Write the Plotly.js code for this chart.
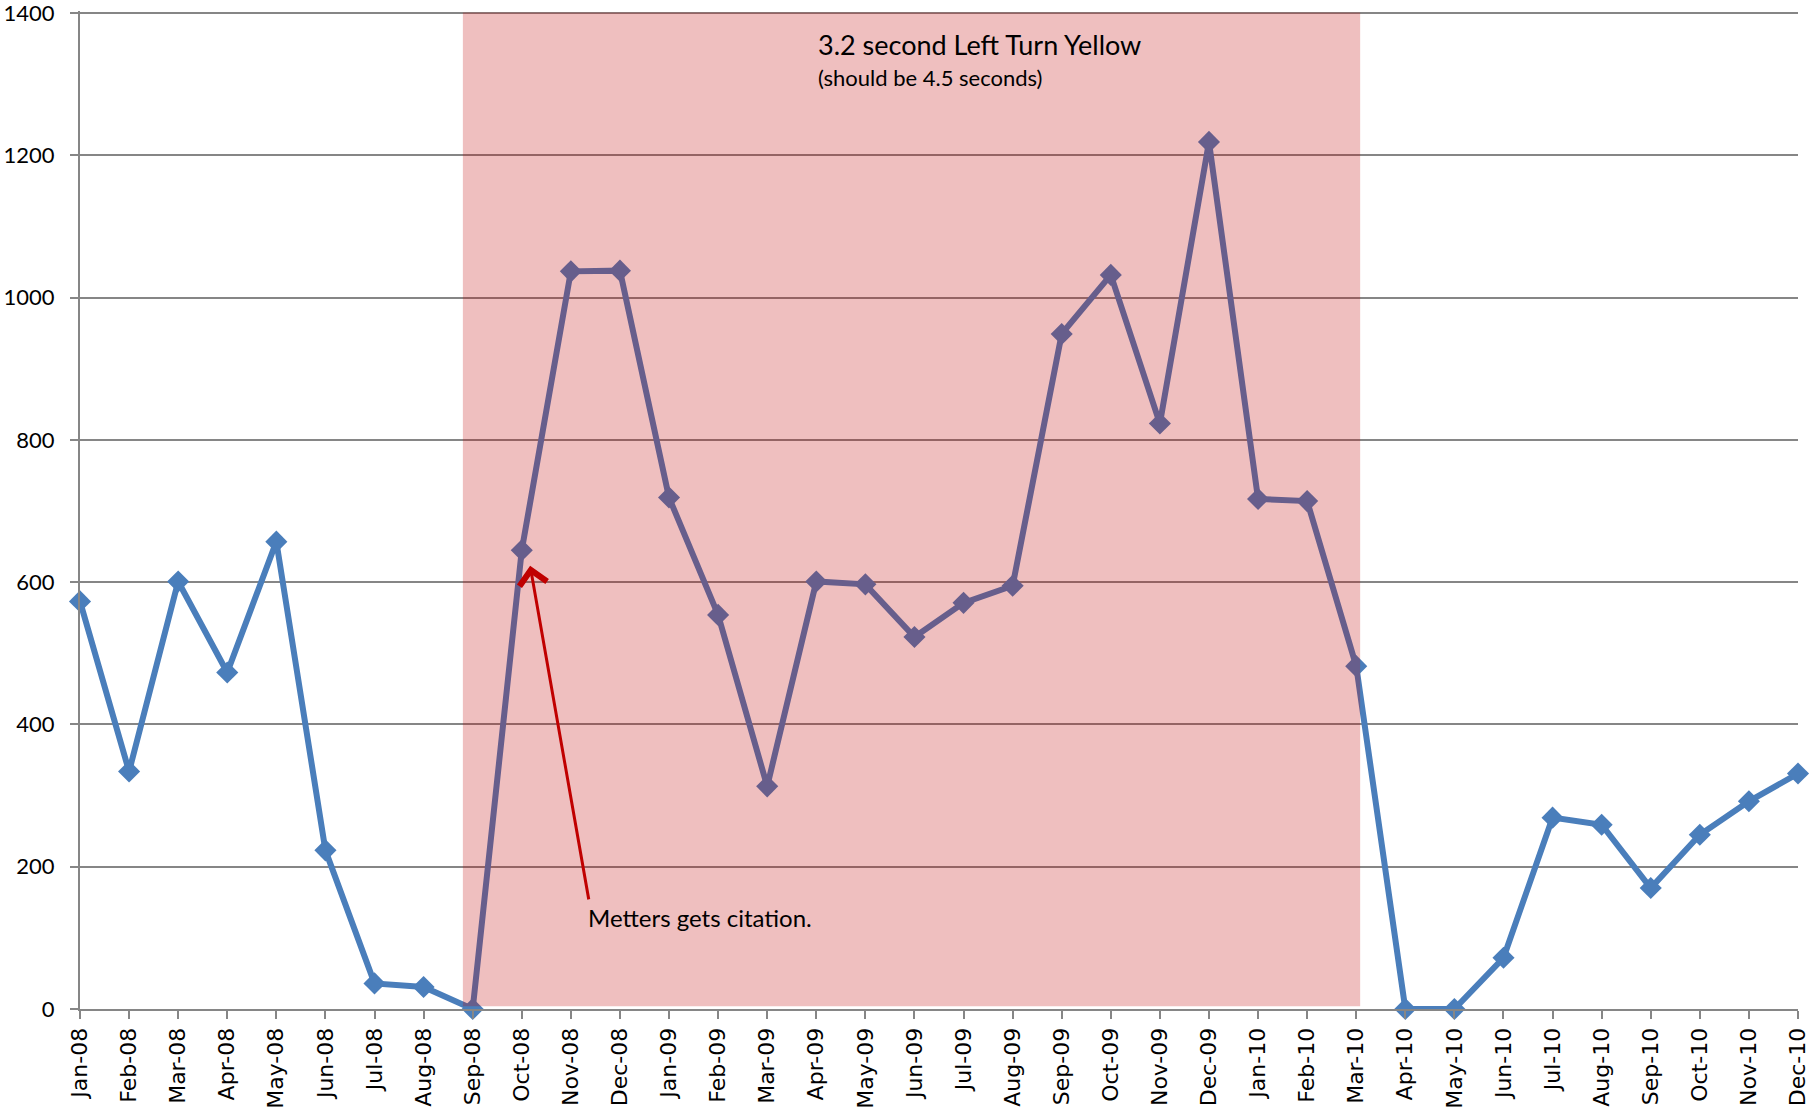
<!DOCTYPE html>
<html>
<head>
<meta charset="utf-8">
<script src="https://cdn.plot.ly/plotly-3.0.1.min.js"></script>
<style>
  html, body { margin: 0; padding: 0; background: #ffffff; }
  #chart { width: 1818px; height: 1110px; }
</style>
</head>
<body>
<div id="chart"></div>
<script>
const months = [
  "Jan-08","Feb-08","Mar-08","Apr-08","May-08","Jun-08","Jul-08","Aug-08","Sep-08","Oct-08","Nov-08","Dec-08",
  "Jan-09","Feb-09","Mar-09","Apr-09","May-09","Jun-09","Jul-09","Aug-09","Sep-09","Oct-09","Nov-09","Dec-09",
  "Jan-10","Feb-10","Mar-10","Apr-10","May-10","Jun-10","Jul-10","Aug-10","Sep-10","Oct-10","Nov-10","Dec-10"
];
const counts = [
  573, 334, 601, 473, 657, 223, 36, 31, 0, 645, 1037, 1038,
  719, 554, 313, 601, 597, 523, 571, 595, 949, 1032, 823, 1219,
  717, 714, 482, 0, 0, 72, 269, 259, 170, 245, 292, 331
];
const yTicks = [0, 200, 400, 600, 800, 1000, 1200, 1400];

const shadeStart = "Sep-08";
const shadeEnd = "Mar-10";
const citationMonth = "Oct-08";

const iStart = months.indexOf(shadeStart);
const iEnd = months.indexOf(shadeEnd);
const iCite = months.indexOf(citationMonth);

const trace = {
  x: months,
  y: counts,
  type: "scatter",
  mode: "lines+markers",
  line: { color: "#4A7EBB", width: 6 },
  marker: { symbol: "diamond", size: 17, color: "#4A7EBB", line: { width: 0 } },
  cliponaxis: false,
  hoverinfo: "x+y"
};

const layout = {
  width: 1818,
  height: 1110,
  margin: { l: 80, r: 20, t: 11, b: 101 },
  paper_bgcolor: "#ffffff",
  plot_bgcolor: "#ffffff",
  showlegend: false,
  font: { family: "Lato, 'Open Sans', sans-serif", color: "#000000" },
  xaxis: {
    type: "category",
    range: [0, months.length - 1],
    tickmode: "array",
    tickvals: months,
    ticktext: months,
    tickangle: -90,
    tickfont: { family: "'DejaVu Sans', sans-serif", size: 22, color: "#000000" },
    ticks: "outside",
    ticklen: 8,
    tickwidth: 2,
    tickcolor: "#868686",
    showline: true,
    linecolor: "#868686",
    linewidth: 2,
    showgrid: false,
    zeroline: false,
    fixedrange: true
  },
  yaxis: {
    range: [0, 1403],
    tickmode: "array",
    tickvals: yTicks,
    ticktext: yTicks.map(String),
    tickfont: { family: "Lato, 'Open Sans', sans-serif", size: 22, color: "#000000" },
    ticks: "outside",
    ticklen: 8,
    tickwidth: 2,
    tickcolor: "#868686",
    ticklabelstandoff: 11,
    ticklabeloverflow: "allow",
    showline: true,
    linecolor: "#868686",
    linewidth: 2,
    showgrid: true,
    gridcolor: "#868686",
    gridwidth: 2,
    zeroline: false,
    fixedrange: true
  },
  shapes: [
    {
      type: "rect",
      xref: "x", yref: "y",
      x0: iStart - 0.2, x1: iEnd + 0.08,
      y0: 4, y1: 1401,
      fillcolor: "rgba(192,0,0,0.25)",
      line: { width: 0 },
      layer: "above"
    }
  ],
  annotations: [
    {
      xref: "x", yref: "y",
      x: 15.0, y: 1356,
      xanchor: "left", yanchor: "middle",
      text: "3.2 second Left Turn Yellow",
      showarrow: false,
      font: { family: "Lato, sans-serif", size: 27, color: "#000000" }
    },
    {
      xref: "x", yref: "y",
      x: 15.0, y: 1309,
      xanchor: "left", yanchor: "middle",
      text: "(should be 4.5 seconds)",
      showarrow: false,
      font: { family: "Lato, sans-serif", size: 22, color: "#000000" }
    },
    {
      xref: "x", yref: "y",
      x: 12.63, y: 128,
      xanchor: "center", yanchor: "middle",
      text: "Metters gets citation.",
      showarrow: false,
      font: { family: "Lato, sans-serif", size: 24, color: "#000000" }
    },
    {
      xref: "x", yref: "y",
      axref: "x", ayref: "y",
      x: iCite + 0.17, y: 623,
      ax: iCite + 1.37, ay: 152,
      text: "",
      showarrow: true,
      arrowhead: 4,
      arrowsize: 1.8,
      arrowwidth: 3,
      arrowcolor: "#C00000",
      standoff: 0,
      startstandoff: 0
    }
  ]
};

Plotly.newPlot("chart", [trace], layout, { displayModeBar: false, staticPlot: true });
</script>
</body>
</html>
